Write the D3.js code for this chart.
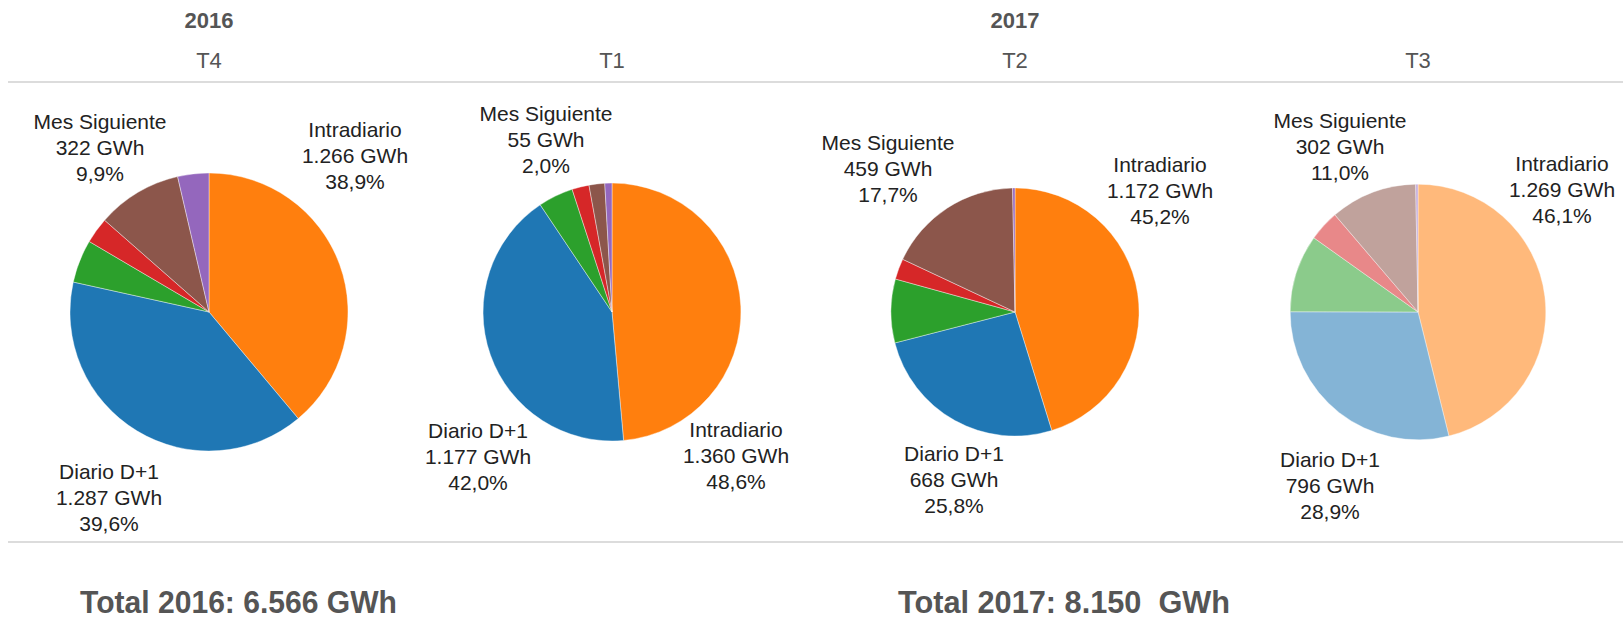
<!DOCTYPE html>
<html>
<head>
<meta charset="utf-8">
<script src="https://cdn.jsdelivr.net/npm/d3@7"></script>
<style>
  body { margin: 0; background: #fff; }
  svg { display: block; font-family: "Liberation Sans", Arial, sans-serif; }
</style>
</head>
<body>
<svg id="chart" width="1623" height="620"></svg>
<script>
// data (GWh)
var categories = ["Intradiario", "Diario D+1", "Fin de Semana", "Resto de Mes", "Mes Siguiente", "Otros"];
var periods = ["T4", "T1", "T2", "T3"];
var periodYears = ["2016", "2017", "2017", "2017"];
var valuesT4_2016 = [1266, 1287, 163, 98, 322, 118];
var valuesT1_2017 = [1360, 1177, 123, 60, 55, 25];
var valuesT2_2017 = [1172, 668, 215, 70, 459, 8];
var valuesT3_2017 = [1269, 796, 270, 107, 302, 8];
var totalYears = ["2016", "2017"];
var totalLabels = ["Total 2016: 6.566 GWh", "Total 2017: 8.150  GWh"];

var allValues = [valuesT4_2016, valuesT1_2017, valuesT2_2017, valuesT3_2017];
var labelled = ["Intradiario", "Diario D+1", "Mes Siguiente"];

// label anchors relative to the pie centre (middle line)
var labelOffsets = [
    {"Mes Siguiente": [-109, -157], "Intradiario": [146, -149], "Diario D+1": [-100, 193]},
    {"Mes Siguiente": [-66, -165], "Intradiario": [124, 151], "Diario D+1": [-134, 152]},
    {"Mes Siguiente": [-127, -136], "Intradiario": [145, -114], "Diario D+1": [-61, 175]},
    {"Mes Siguiente": [-78, -158], "Intradiario": [144, -115], "Diario D+1": [-88, 181]}
];
var fadedPeriod = 3;

var locale = d3.formatLocale({decimal: ",", thousands: ".", grouping: [3], currency: ["", " €"]});
var fmtInt = locale.format(",d");
var fmtPct = locale.format(".1f");

var svg = d3.select("#chart");
var cy = 312;

var x = d3.scalePoint()
    .domain(periods)
    .range([209, 1418]);

var totals = allValues.map(function (v) { return d3.sum(v); });
var r = d3.scaleSqrt()
    .domain([0, d3.max(totals)])
    .range([0, 139]);

var color = d3.scaleOrdinal()
    .domain(categories)
    .range(["#ff7f0e", "#1f77b4", "#2ca02c", "#d62728", "#8c564b", "#9467bd"]);

var pie = d3.pie().sort(null).value(function (d) { return d.value; });

// header
var years = d3.groups(periods.map(function (p, i) { return {p: p, year: periodYears[i]}; }), function (d) { return d.year; });
svg.selectAll("text.year")
    .data(years)
    .enter()
    .append("text")
    .attr("class", "year")
    .attr("x", function (d) { return d3.mean(d[1], function (e) { return x(e.p); }); })
    .attr("y", 28)
    .attr("text-anchor", "middle")
    .style("font-size", "22px")
    .style("font-weight", "bold")
    .style("fill", "#555")
    .text(function (d) { return d[0]; });

svg.selectAll("text.period")
    .data(periods)
    .enter()
    .append("text")
    .attr("class", "period")
    .attr("x", function (d) { return x(d); })
    .attr("y", 68)
    .attr("text-anchor", "middle")
    .style("font-size", "22px")
    .style("fill", "#555")
    .text(String);

svg.selectAll("line.sep")
    .data([82, 542])
    .enter()
    .append("line")
    .attr("class", "sep")
    .attr("x1", 8)
    .attr("x2", 1623)
    .attr("y1", function (d) { return d; })
    .attr("y2", function (d) { return d; })
    .style("stroke", "#dcdcdc")
    .style("stroke-width", 2);

// pies
periods.forEach(function (p, i) {
    var rows = categories.map(function (c, j) { return {key: c, value: allValues[i][j]}; });
    var total = totals[i];
    var radius = r(total);
    var arc = d3.arc().innerRadius(0).outerRadius(radius);

    var g = svg.append("g")
        .attr("transform", "translate(" + x(p) + "," + cy + ")");

    g.selectAll("path")
        .data(pie(rows))
        .enter()
        .append("path")
        .attr("d", arc)
        .style("fill", function (d) { return color(d.data.key); })
        .style("fill-opacity", i === fadedPeriod ? 0.55 : 1)
        .style("stroke", "#fff")
        .style("stroke-width", 0.4);

    var lab = g.selectAll("text.lab")
        .data(rows.filter(function (d) { return labelled.indexOf(d.key) >= 0; }))
        .enter()
        .append("text")
        .attr("class", "lab")
        .attr("text-anchor", "middle")
        .style("font-size", "21px")
        .style("fill", "#222");

    lab.each(function (d) {
        var off = labelOffsets[i][d.key];
        var lines = [d.key, fmtInt(d.value) + " GWh", fmtPct(d.value / total * 100) + "%"];
        d3.select(this).selectAll("tspan")
            .data(lines)
            .enter()
            .append("tspan")
            .attr("x", off[0])
            .attr("y", function (t, k) { return off[1] + (k - 1) * 26; })
            .text(String);
    });
});

// totals at the bottom
svg.selectAll("text.total")
    .data(totalLabels)
    .enter()
    .append("text")
    .attr("class", "total")
    .attr("x", function (d, i) { return i === 0 ? 80 : 898; })
    .attr("y", 613)
    .attr("textLength", function (d, i) { return i === 0 ? 317 : 332; })
    .attr("lengthAdjust", "spacingAndGlyphs")
    .style("font-size", "31px")
    .style("font-weight", "bold")
    .style("fill", "#555")
    .style("white-space", "pre")
    .text(String);
</script>
</body>
</html>
